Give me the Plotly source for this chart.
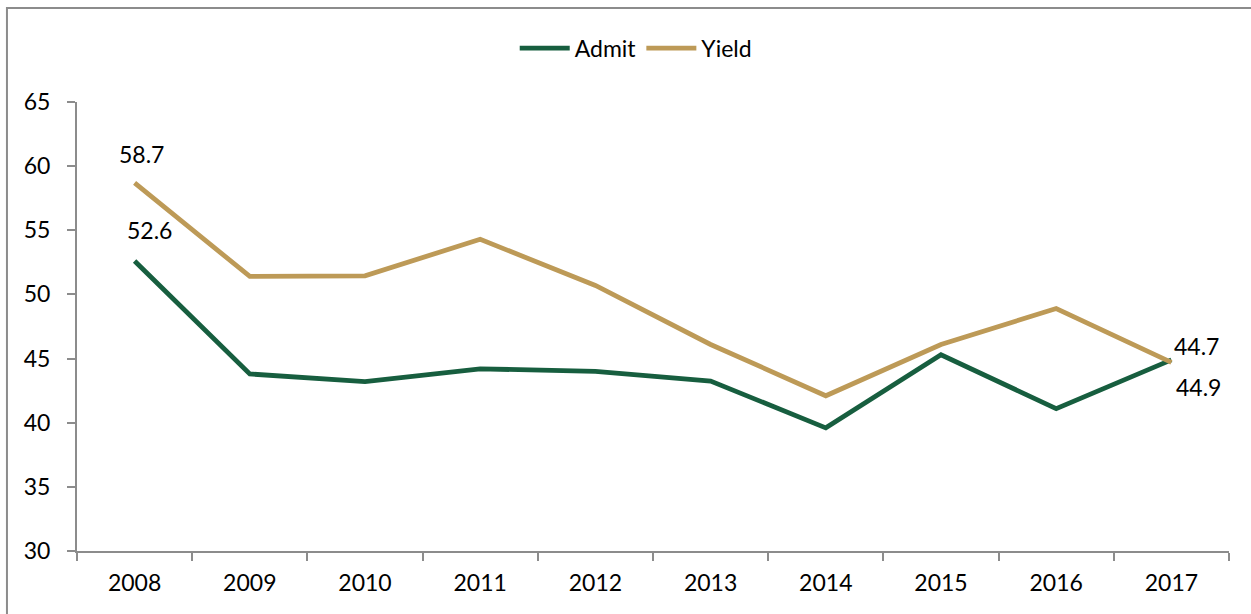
import plotly.graph_objects as go

years = ["2008", "2009", "2010", "2011", "2012", "2013", "2014", "2015", "2016", "2017"]
admit = [52.6, 43.8, 43.2, 44.2, 44.0, 43.25, 39.6, 45.3, 41.1, 44.9]
yield_rate = [58.7, 51.4, 51.45, 54.3, 50.7, 46.1, 42.1, 46.1, 48.9, 44.7]
y_ticks = [30, 35, 40, 45, 50, 55, 60, 65]

GREEN = "#175E3F"
TAN = "#BD9A57"
FONT = "Lato, Calibri, Carlito, sans-serif"

fig = go.Figure()
fig.add_trace(go.Scatter(x=years, y=admit, name="Admit", mode="lines",
                         line=dict(color=GREEN, width=4.8)))
fig.add_trace(go.Scatter(x=years, y=yield_rate, name="Yield", mode="lines",
                         line=dict(color=TAN, width=4.8)))

first, last = 0, len(years) - 1
ann = [
    dict(x=first, y=yield_rate[first], text=f"{yield_rate[first]:.1f}", xshift=7, yshift=29),
    dict(x=first, y=admit[first], text=f"{admit[first]:.1f}", xshift=15, yshift=31),
    dict(x=last, y=yield_rate[last], text=f"{yield_rate[last]:.1f}", xshift=25, yshift=16),
    dict(x=last, y=admit[last], text=f"{admit[last]:.1f}", xshift=27, yshift=-27),
]
for a in ann:
    fig.add_annotation(xref="x", yref="y", showarrow=False,
                       font=dict(family=FONT, size=23, color="#000"), **a)

# outer frame
fig.add_shape(type="rect", xref="paper", yref="paper",
              x0=-0.0608, x1=1.2, y0=-0.3, y1=1.2094,
              line=dict(color="#8c8c8c", width=2), layer="below")

fig.update_layout(
    width=1251, height=614,
    margin=dict(l=77, r=22, t=102, b=63),
    paper_bgcolor="white", plot_bgcolor="white",
    font=dict(family=FONT, size=23, color="#000"),
    showlegend=True,
    legend=dict(orientation="h", x=0.485, xanchor="center", y=1.12, yanchor="middle",
                font=dict(family=FONT, size=23, color="#000"),
                itemwidth=50, tracegroupgap=0, bgcolor="rgba(0,0,0,0)"),
    xaxis=dict(type="category", range=[-0.5, 9.5], showgrid=False,
               showline=True, linecolor="#8c8c8c", linewidth=2,
               ticks="outside", tickson="boundaries", ticklen=8,
               tickcolor="#8c8c8c", tickwidth=2, ticklabelstandoff=10,
               tickfont=dict(family=FONT, size=23, color="#000")),
    yaxis=dict(range=[30, 65], tickvals=y_ticks, showgrid=False, zeroline=False,
               showline=True, linecolor="#8c8c8c", linewidth=2,
               ticks="outside", ticklen=8, tickcolor="#8c8c8c", tickwidth=2,
               ticklabelstandoff=12,
               tickfont=dict(family=FONT, size=23, color="#000")),
)

fig.write_html("out.html", config={"displayModeBar": False},
               post_script="document.body.style.margin='0';")
